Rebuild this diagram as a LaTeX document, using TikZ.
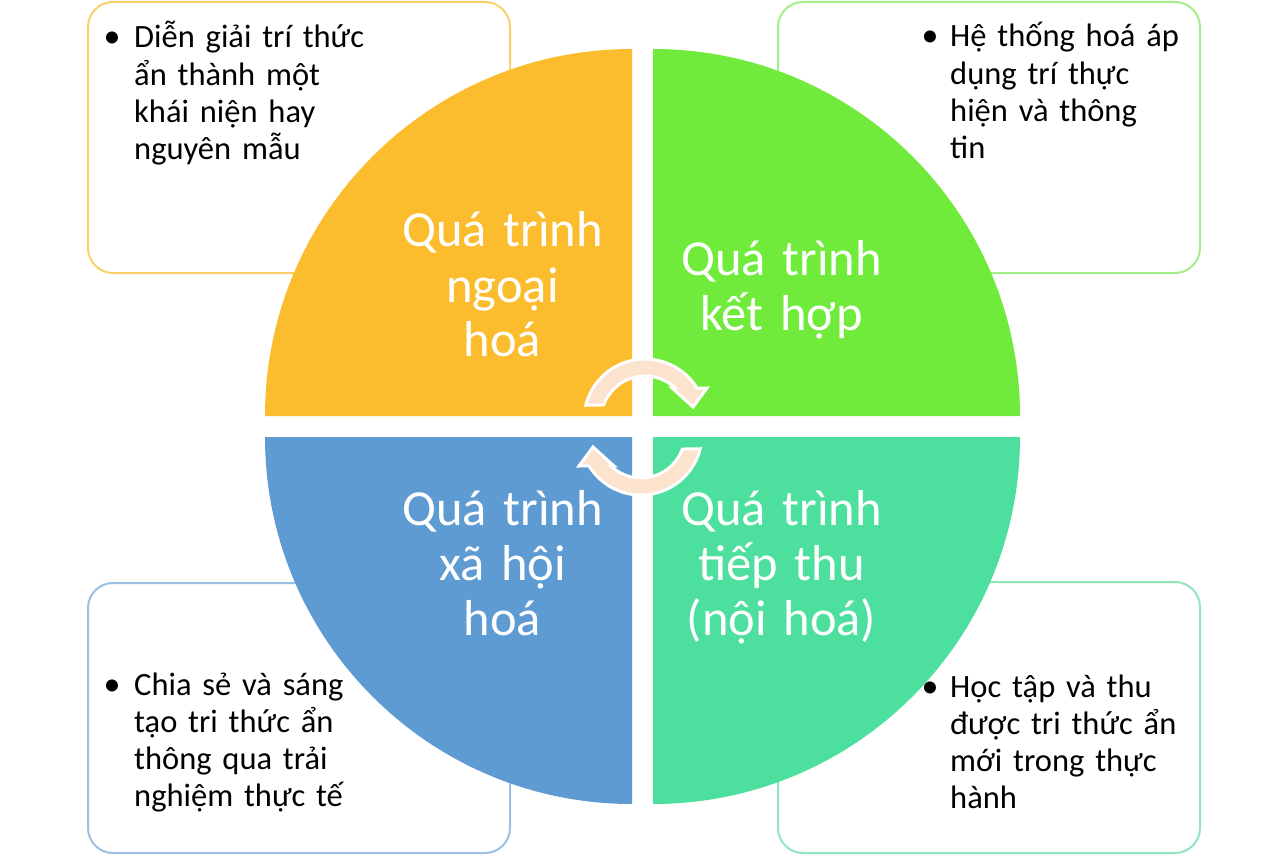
\documentclass[tikz,border=0pt]{standalone}
\usepackage{fontspec}
\setmainfont{Carlito}
\usetikzlibrary{calc}
\definecolor{qyellow}{HTML}{FBBC2E}
\definecolor{qgreen}{HTML}{70EB3C}
\definecolor{qblue}{HTML}{5F9BD3}
\definecolor{qteal}{HTML}{4DDF9E}
\definecolor{byellow}{HTML}{F8D16A}
\definecolor{bgreen}{HTML}{A6EE8C}
\definecolor{bblue}{HTML}{9BBFE3}
\definecolor{bteal}{HTML}{8FE6BF}
\definecolor{peach}{HTML}{FBE3CE}
\newcommand{\mybodyfont}{\fontsize{32.5}{37.3}\selectfont\spaceskip=0.2em\relax}
\newcommand{\myquadfont}{\fontsize{50.5}{55}\selectfont\spaceskip=0.2em\relax}
\tikzset{
  infobox/.style={fill=white, line width=2pt, rounded corners=25pt},
  cyclearrow/.style={fill=peach, draw=white, line width=3pt, line join=miter},
  bodytext/.style={anchor=base west, inner sep=0pt, text width=260pt, align=left,
    font=\mybodyfont, text=black},
  bulletmark/.style={anchor=base, inner sep=0pt, font=\fontsize{34}{37.3}\selectfont, text=black},
  quadtext/.style={anchor=base, inner sep=0pt, text width=300pt, align=center,
    font=\myquadfont, text=white}
}
\begin{document}
\begin{tikzpicture}[x=1pt, y=1pt, yscale=-1]
\useasboundingbox (0,0) rectangle (1286,856);
\fill[white] (0,0) rectangle (1286,856);

% text boxes
\draw[infobox, draw=byellow] (88,2) rectangle (510,273);
\draw[infobox, draw=bgreen] (778,2) rectangle (1200,273);
\draw[infobox, draw=bblue] (88,583) rectangle (510,853);
\draw[infobox, draw=bteal] (778,582) rectangle (1200,853);

% quarters of the circle
\fill[qyellow] (632,416) -- (265,416) arc[start angle=180, end angle=270, radius=367] -- cycle;
\fill[qgreen] (653,416) -- (653,49) arc[start angle=270, end angle=360, radius=367] -- cycle;
\fill[qteal] (653,437) -- (1020,437) arc[start angle=0, end angle=90, radius=367] -- cycle;
\fill[qblue] (632,437) -- (632,804) arc[start angle=90, end angle=180, radius=367] -- cycle;

% quarter labels
\node[quadtext] (lblext) at (502.5,247) {Quá trình\\ngoại\\hoá};
\node[quadtext] (lblcomb) at (781.5,275) {Quá trình\\kết hợp};
\node[quadtext] (lblsoc) at (502.5,525) {Quá trình\\xã hội\\hoá};
\node[quadtext] (lblint) at (781.5,525) {Quá trình\\tiếp thu\\(nội hoá)};

% box texts
\node[bulletmark] (b1) at (112,48) {•};
\node[bodytext] (t1) at (134,48) {Diễn giải trí thức\\ẩn thành một\\khái niện hay\\nguyên mẫu};
\node[bulletmark] (b2) at (930,47) {•};
\node[bodytext] (t2) at (950,47) {Hệ thống hoá áp\\dụng trí thực\\hiện và thông\\tin};
\node[bulletmark] (b3) at (112,695) {•};
\node[bodytext] (t3) at (134,695) {Chia sẻ và sáng\\tạo tri thức ẩn\\thông qua trải\\nghiệm thực tế};
\node[bulletmark] (b4) at (930,697) {•};
\node[bodytext] (t4) at (950,697) {Học tập và thu\\được tri thức ẩn\\mới trong thực\\hành};

% circular arrows in the centre
\coordinate (ctop) at (645,420);
\draw[cyclearrow] ($(ctop)+(194:61)$) arc[start angle=194, end angle=328.4, radius=61]
  -- (707,388) -- (693,407) -- (672,388) -- ($(ctop)+(313.3:44)$)
  arc[start angle=313.3, end angle=200, radius=44] -- cycle;
\coordinate (cbot) at (641,434);
\draw[cyclearrow] ($(cbot)+(14:61)$) arc[start angle=14, end angle=148.4, radius=61]
  -- (579,466) -- (593,447) -- (614,466) -- ($(cbot)+(133.3:44)$)
  arc[start angle=133.3, end angle=20, radius=44] -- cycle;
\end{tikzpicture}
\end{document}
